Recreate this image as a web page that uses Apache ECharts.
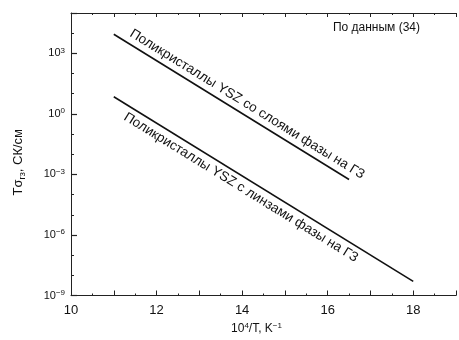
<!DOCTYPE html>
<html>
<head>
<meta charset="utf-8">
<script src="https://cdn.jsdelivr.net/npm/echarts@6/dist/echarts.min.js"></script>
<style>
html,body{margin:0;padding:0;background:#fff;}
#chart{width:459px;height:340px;}
</style>
</head>
<body>
<div id="chart"></div>
<script>
// Data
var xLayers = [11, 16.5];
var yLayers = [8900, 5.6e-4];
var xLenses = [11, 18];
var yLenses = [7.1, 5.0e-9];
var labelLayers = 'Поликристаллы YSZ со слоями фазы на ГЗ';
var labelLenses = 'Поликристаллы YSZ с линзами фазы на ГЗ';
var xTickLabels = [10, 12, 14, 16, 18];
var yTickExponents = [-9, -6, -3, 0, 3];
var sourceNote = 'По данным (34)';

function pairs(xs, ys) { return xs.map(function (x, i) { return [x, ys[i]]; }); }

var font = 'Liberation Sans, Arial, sans-serif';
var chart = echarts.init(document.getElementById('chart'), null, {renderer: 'canvas'});

function lineSeries(xs, ys) {
  return {
    type: 'line',
    data: pairs(xs, ys),
    xAxisIndex: 0,
    yAxisIndex: 0,
    symbol: 'none',
    lineStyle: {color: '#111', width: 1.6},
    silent: true,
    animation: false
  };
}

var supRich = function (size) {
  return {
    a: {fontFamily: font, fontSize: size, color: '#111'},
    s: {fontFamily: font, fontSize: Math.round(size * 0.7), color: '#111', verticalAlign: 'bottom', padding: [0, 0, Math.round(size * 0.55), 0]}
  };
};

var option = {
  backgroundColor: '#fff',
  animation: false,
  grid: {left: 71, top: 13, height: 287, width: 400},
  xAxis: [{
    type: 'value',
    position: 'bottom',
    min: 10, max: 19, interval: 1,
    axisLine: {lineStyle: {color: '#222', width: 1}},
    axisTick: {inside: true, length: 5, lineStyle: {color: '#222'}},
    minorTick: {show: true, splitNumber: 2, length: 2, lineStyle: {color: '#222'}},
    splitLine: {show: false},
    axisLabel: {
      color: '#111', fontFamily: font, fontSize: 13, margin: 8,
      formatter: function (v) { return xTickLabels.indexOf(v) >= 0 ? String(v) : ''; }
    },
    name: '{a|10}{s|4}{a|/T, K}{s|−1}',
    nameLocation: 'middle',
    nameGap: 26,
    nameTextStyle: {padding: [0, 14, 0, 0], rich: supRich(12)}
  }, {
    type: 'value',
    position: 'top',
    min: 10, max: 19, interval: 1,
    axisLine: {lineStyle: {color: '#222', width: 1}},
    axisTick: {inside: true, length: 4, lineStyle: {color: '#222'}},
    minorTick: {show: true, splitNumber: 2, length: 2, lineStyle: {color: '#222'}},
    axisLabel: {show: false},
    splitLine: {show: false}
  }],
  yAxis: [{
    type: 'log',
    logBase: 10,
    position: 'left',
    min: 1e-9, max: 1e5, interval: 3,
    axisLine: {lineStyle: {color: '#222', width: 1}},
    axisTick: {inside: true, length: 6, lineStyle: {color: '#222', width: 1.2}},
    splitLine: {show: false},
    axisLabel: {
      margin: 6,
      formatter: function (v) {
        var e = Math.round(Math.log10(v));
        if (yTickExponents.indexOf(e) < 0) return '';
        return '{a|10}{s|' + (e < 0 ? '−' + (-e) : e) + '}';
      },
      rich: supRich(11)
    },
    name: '{a|Tσ}{b|гз}{a|, СК/см}',
    nameLocation: 'middle',
    nameGap: 44,
    nameRotate: 90,
    nameTextStyle: {
      padding: [0, 16, 0, 0],
      rich: {
        a: {fontFamily: font, fontSize: 13, color: '#111'},
        b: {fontFamily: font, fontSize: 9, color: '#111', verticalAlign: 'top', padding: [8, 0, 0, 0]}
      }
    }
  }, {
    type: 'log',
    logBase: 10,
    position: 'left',
    offset: 0,
    min: 1e-9, max: 1e5, interval: 1,
    axisLine: {show: false},
    axisTick: {inside: true, length: 3, lineStyle: {color: '#222'}},
    axisLabel: {show: false},
    splitLine: {show: false}
  }],
  graphic: [{
    id: 'note',
    type: 'text',
    right: 39,
    top: 22,
    style: {text: sourceNote, font: '12px ' + font, fill: '#111'}
  }],
  series: [
    lineSeries(xLayers, yLayers),
    lineSeries(xLenses, yLenses)
  ]
};
chart.setOption(option);

// Rotated annotations aligned with each line, positioned from the data through the axes
function alongLabel(id, xs, ys, text, along, perp) {
  var p0 = chart.convertToPixel({xAxisIndex: 0, yAxisIndex: 0}, [xs[0], ys[0]]);
  var p1 = chart.convertToPixel({xAxisIndex: 0, yAxisIndex: 0}, [xs[xs.length - 1], ys[ys.length - 1]]);
  var dx = p1[0] - p0[0], dy = p1[1] - p0[1];
  var len = Math.sqrt(dx * dx + dy * dy);
  var ux = dx / len, uy = dy / len;
  var nx = uy, ny = -ux; // normal pointing up-right
  var cx = (p0[0] + p1[0]) / 2 + ux * along + nx * perp;
  var cy = (p0[1] + p1[1]) / 2 + uy * along + ny * perp;
  return {
    id: id,
    type: 'text',
    x: cx, y: cy,
    rotation: -Math.atan2(dy, dx),
    silent: true,
    style: {text: text, font: '13.5px ' + font, fill: '#111', align: 'center', verticalAlign: 'middle'}
  };
}

chart.setOption({
  graphic: [
    alongLabel('lblLayers', xLayers, yLayers, labelLayers, 12, 10.5),
    alongLabel('lblLenses', xLenses, yLenses, labelLenses, -20, -10.5)
  ]
});
</script>
</body>
</html>
